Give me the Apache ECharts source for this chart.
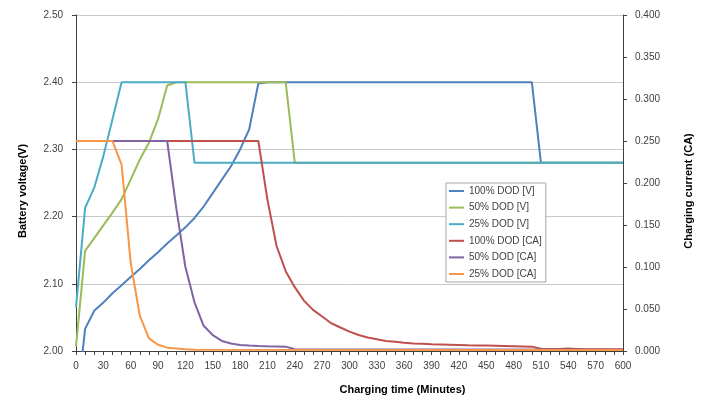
<!DOCTYPE html>
<html>
<head>
<meta charset="utf-8">
<script src="https://cdn.jsdelivr.net/npm/echarts@6/dist/echarts.min.js"></script>
<style>html,body{margin:0;padding:0;background:#fff;}#c{width:716px;height:400px;}</style>
</head>
<body>
<div id="c"></div>
<script>
// ---- Data ----
const seriesNames = ['100% DOD [V]', '50% DOD [V]', '25% DOD [V]', '100% DOD [CA]', '50% DOD [CA]', '25% DOD [CA]'];

// Battery voltage (V), left axis
const v100Times = [0, 10, 20, 30, 40, 50, 60, 70, 80, 90, 100, 110, 120, 130, 140, 150, 160, 170, 180, 190, 200, 210, 500, 510, 600];
const v100Values = [1.91, 2.033, 2.06, 2.072, 2.086, 2.098, 2.11, 2.122, 2.135, 2.147, 2.16, 2.172, 2.184, 2.198, 2.215, 2.235, 2.255, 2.275, 2.30, 2.33, 2.398, 2.40, 2.40, 2.28, 2.28];

const v50Times = [0, 10, 20, 30, 40, 50, 60, 70, 80, 90, 100, 110, 230, 240, 600];
const v50Values = [2.007, 2.149, 2.168, 2.187, 2.206, 2.226, 2.255, 2.285, 2.31, 2.345, 2.395, 2.40, 2.40, 2.28, 2.28];

const v25Times = [0, 10, 20, 30, 40, 50, 120, 130, 600];
const v25Values = [2.065, 2.213, 2.243, 2.29, 2.345, 2.40, 2.40, 2.28, 2.28];

// Charging current (CA), right axis
const c100Times = [0, 200, 210, 220, 230, 240, 250, 260, 270, 280, 290, 300, 310, 320, 330, 340, 350, 360, 370, 380, 390, 400, 410, 420, 430, 440, 450, 460, 470, 480, 490, 500, 510, 520, 530, 540, 550, 560, 600];
const c100Values = [0.25, 0.25, 0.18, 0.125, 0.095, 0.076, 0.06, 0.049, 0.041, 0.033, 0.028, 0.023, 0.019, 0.016, 0.014, 0.012, 0.011, 0.0097, 0.009, 0.0085, 0.008, 0.0077, 0.0074, 0.0071, 0.0068, 0.0066, 0.0064, 0.0062, 0.006, 0.0058, 0.0055, 0.0052, 0.0026, 0.0025, 0.0025, 0.003, 0.0025, 0.002, 0.002];

const c50Times = [0, 100, 110, 120, 130, 140, 150, 160, 170, 180, 190, 200, 210, 220, 230, 240, 600];
const c50Values = [0.25, 0.25, 0.17, 0.10, 0.058, 0.03, 0.019, 0.012, 0.009, 0.0072, 0.0065, 0.006, 0.0057, 0.0055, 0.0052, 0.002, 0.0015];

const c25Times = [0, 40, 50, 60, 70, 80, 90, 100, 110, 120, 130, 600];
const c25Values = [0.25, 0.25, 0.222, 0.105, 0.042, 0.015, 0.0075, 0.004, 0.003, 0.002, 0.0015, 0.0012];

// Axis ticks
const xTickStep = 10, xLabelStep = 30;
const voltTicks = { min: 2.0, max: 2.5, step: 0.1 };
const currTicks = { min: 0, max: 0.4, step: 0.05 };

const colors = ['#4F81BD', '#9BBB59', '#4BACC6', '#C0504D', '#8064A2', '#F79646'];

function pairs(t, v) { return t.map((x, i) => [x, v[i]]); }

const dataSets = [
  [v100Times, v100Values, 0],
  [v50Times, v50Values, 0],
  [v25Times, v25Values, 0],
  [c100Times, c100Values, 1],
  [c50Times, c50Values, 1],
  [c25Times, c25Values, 1]
];

const FONT = '"Liberation Sans", Arial, sans-serif';
const chart = echarts.init(document.getElementById('c'), null, { renderer: 'canvas' });

chart.setOption({
  animation: false,
  backgroundColor: '#fff',
  textStyle: { fontFamily: FONT },
  grid: { left: 76, right: 93, top: 15, bottom: 48, containLabel: false },
  legend: {
    data: seriesNames,
    orient: 'vertical',
    left: 446,
    top: 183,
    icon: 'rect',
    itemWidth: 15,
    itemHeight: 2,
    itemGap: 4.6,
    padding: [2, 4, 2, 3],
    borderColor: '#a6a6a6',
    borderWidth: 1,
    backgroundColor: '#fff',
    textStyle: { fontSize: 10, color: '#404040', lineHeight: 12, fontFamily: FONT }
  },
  xAxis: {
    type: 'value',
    min: 0,
    max: 600,
    interval: xTickStep,
    name: 'Charging time (Minutes)',
    nameLocation: 'middle',
    nameGap: 33,
    nameTextStyle: { fontWeight: 'bold', fontSize: 11, color: '#000', padding: [0, 0, 0, 106] },
    axisLine: { lineStyle: { color: '#404040', width: 1 } },
    axisTick: { show: true, length: 4, lineStyle: { color: '#404040' } },
    axisLabel: {
      margin: 10, fontSize: 10, color: '#404040', hideOverlap: false,
      formatter: v => (v % xLabelStep === 0 ? String(v) : '')
    },
    splitLine: { show: false }
  },
  yAxis: [
    {
      type: 'value',
      position: 'left',
      min: voltTicks.min,
      max: voltTicks.max,
      interval: voltTicks.step,
      name: 'Battery voltage(V)',
      nameLocation: 'middle',
      nameRotate: 90,
      nameGap: 48,
      nameTextStyle: { fontWeight: 'bold', fontSize: 11, color: '#000', padding: [0, 16, 0, 0] },
      axisLine: { show: true, lineStyle: { color: '#404040', width: 1 } },
      axisTick: { show: true, length: 4, lineStyle: { color: '#404040' } },
      axisLabel: { margin: 13, fontSize: 10, color: '#404040', formatter: v => v.toFixed(2) },
      splitLine: { show: true, lineStyle: { color: '#c8c8c8', width: 1 } }
    },
    {
      type: 'value',
      position: 'right',
      min: currTicks.min,
      max: currTicks.max,
      interval: currTicks.step,
      name: 'Charging current (CA)',
      nameLocation: 'middle',
      nameRotate: 90,
      nameGap: 60,
      nameTextStyle: { fontWeight: 'bold', fontSize: 11, color: '#000', padding: [0, 16, 0, 0] },
      axisLine: { show: true, lineStyle: { color: '#404040', width: 1 } },
      axisTick: { show: true, length: 4, lineStyle: { color: '#404040' } },
      axisLabel: { margin: 12, fontSize: 10, color: '#404040', formatter: v => v.toFixed(3) },
      splitLine: { show: false }
    }
  ],
  series: dataSets.map((d, i) => ({
    name: seriesNames[i],
    type: 'line',
    yAxisIndex: d[2],
    data: pairs(d[0], d[1]),
    showSymbol: false,
    symbol: 'none',
    clip: true,
    color: colors[i],
    lineStyle: { width: 2, color: colors[i] },
    z: 2 + i
  }))
});
</script>
</body>
</html>
